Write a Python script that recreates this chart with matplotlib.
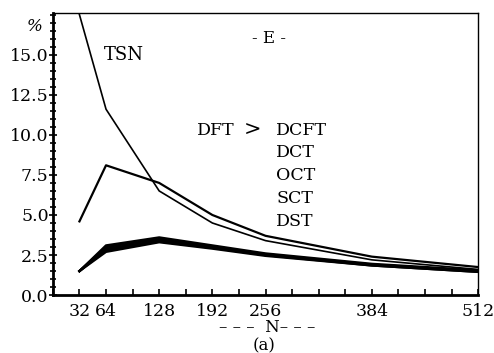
import matplotlib.pyplot as plt
from matplotlib.ticker import MultipleLocator

plt.rcParams['font.family'] = ['DejaVu Serif']

# block sizes N
n = [32, 64, 128, 192, 256, 384, 512]

# error (%) per transform
tsn = [17.5, 11.6, 6.5, 4.5, 3.4, 2.2, 1.6]
dft = [4.6, 8.1, 7.0, 5.0, 3.7, 2.4, 1.75]
dcft = [1.5, 3.1, 3.6, 3.1, 2.6, 1.95, 1.55]
dct = [1.5, 3.0, 3.5, 3.0, 2.55, 1.9, 1.5]
oct_ = [1.5, 2.9, 3.4, 3.0, 2.5, 1.9, 1.5]
sct = [1.5, 2.8, 3.35, 2.95, 2.5, 1.85, 1.45]
dst = [1.5, 2.7, 3.3, 2.9, 2.45, 1.85, 1.45]

xticks = [32, 64, 128, 192, 256, 384, 512]
yticks = [0.0, 2.5, 5.0, 7.5, 10.0, 12.5, 15.0]

fig = plt.figure(figsize=(4.94, 3.53), dpi=100)
ax = fig.add_axes([0.107, 0.164, 0.861, 0.799])

ax.plot(n, tsn, c='black', lw=1.2)
ax.plot(n, dft, c='black', lw=1.6)
for s in [dcft, dct, oct_, sct, dst]:
    ax.plot(n, s, c='black', lw=1.7)

ax.set_xlim(0, 512)
ax.set_ylim(0, 17.6)
ax.set_xticks(xticks)
ax.set_xticklabels([str(t) for t in xticks], fontsize=12.5)
ax.xaxis.set_minor_locator(MultipleLocator(32))
ax.set_yticks(yticks)
ax.set_yticklabels(['%.1f' % t for t in yticks], fontsize=12.5)
ax.yaxis.set_minor_locator(MultipleLocator(0.5))
ax.tick_params(axis='x', which='both', direction='in', length=4, width=1.2, pad=6)
ax.tick_params(axis='y', which='major', direction='inout', length=6, width=1.2, pad=0)
ax.tick_params(axis='y', which='minor', direction='inout', length=4, width=1.2)
for sp in ax.spines.values():
    sp.set_linewidth(1.0)
ax.spines['left'].set_linewidth(2.0)
ax.spines['bottom'].set_linewidth(2.0)

ax.text(-12, 16.75, '%', fontsize=12, ha='right', va='center', style='italic')
ax.text(61, 15.0, 'TSN', fontsize=13, va='center')
ax.text(260, 16.0, '- E -', fontsize=12, ha='center', va='center')
ax.text(173, 10.3, 'DFT', fontsize=12.5, va='center')
ax.text(240, 10.3, '>', fontsize=15, va='center', ha='center')
for i, lbl in enumerate(['DCFT', 'DCT', 'OCT', 'SCT', 'DST']):
    ax.text(269, 10.3 - i * 1.42, lbl, fontsize=12.5, va='center')

fig.text(0.54, 0.072, '– – –  N– – –', fontsize=12, ha='center', va='center')
fig.text(0.535, 0.02, '(a)', fontsize=12, ha='center', va='center')

fig.savefig('out.png', dpi=100)
